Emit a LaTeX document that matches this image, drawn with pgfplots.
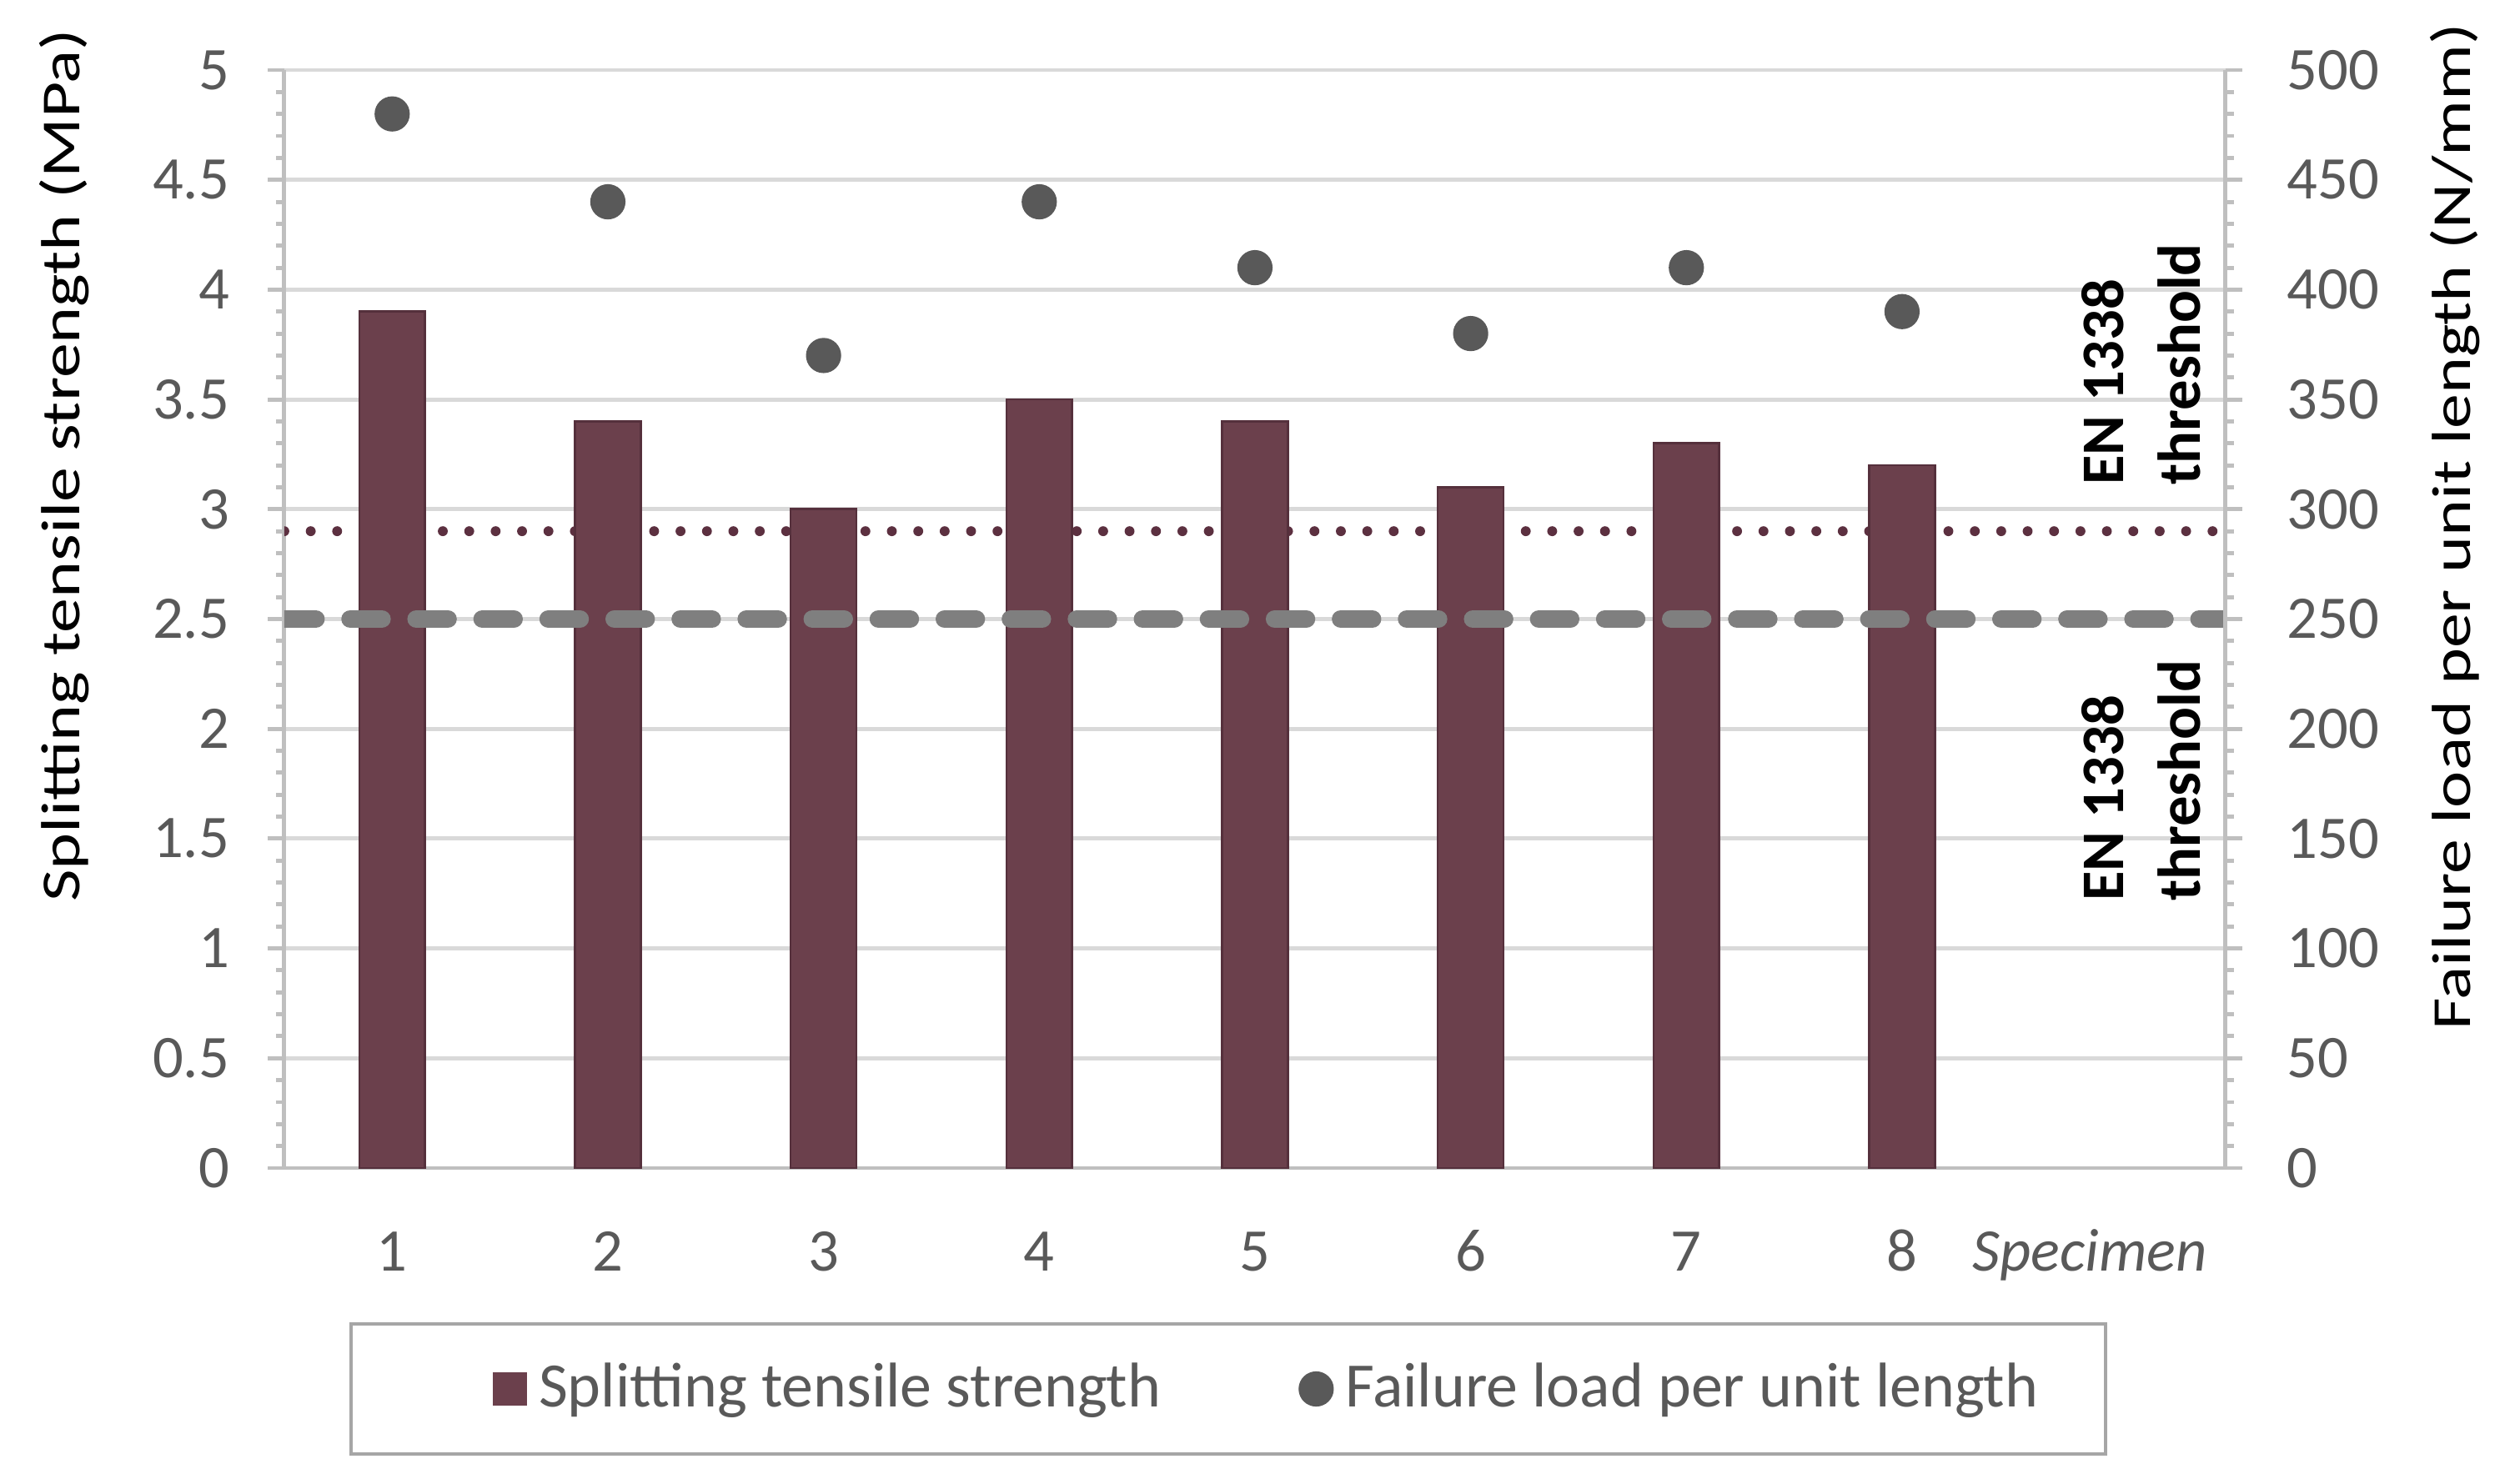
\documentclass[border=0pt]{standalone}
\usepackage{fontspec}
\setmainfont{Carlito}
\usepackage{graphicx}
\usepackage{pgfplots}
\pgfplotsset{compat=1.18}
\definecolor{barcol}{RGB}{107,64,76}
\definecolor{barline}{RGB}{85,48,60}
\definecolor{ptcol}{RGB}{89,89,89}
\definecolor{dotcol}{RGB}{92,48,64}
\definecolor{dashcol}{RGB}{127,127,127}
\definecolor{gridcol}{RGB}{217,217,217}
\definecolor{axiscol}{RGB}{191,191,191}
\definecolor{txtgray}{RGB}{89,89,89}
\definecolor{legcol}{RGB}{166,166,166}
\pgfplotsset{
  base/.style={
    scale only axis, width=352.78pt, height=199.58pt,
    xmin=0.5, xmax=9.5, ymin=0,
    tick align=outside, major tick length=3pt, minor tick length=1.5pt,
    minor y tick num=4,
    tick style={draw=axiscol, line width=0.75pt},
    axis line style={draw=axiscol, line width=0.75pt, -},
    tick label style={font=\fontsize{11}{13}\selectfont, text=txtgray},
    /pgf/number format/assume math mode=true,
    label style={font=\fontsize{12.5}{15}\selectfont, text=txtgray},
  }
}
\begin{document}
\begin{tikzpicture}
\useasboundingbox (-51.67pt,-57.28pt) rectangle (403.55pt,212.31pt);
\begin{axis}[base, ymax=5,
  axis x line*=bottom, axis y line*=left,
  ytick={0,0.5,1,1.5,2,2.5,3,3.5,4,4.5,5},
  ymajorgrids, grid style={draw=gridcol, line width=0.75pt},
  xtick={1,2,3,4,5,6,7,8,8.87},
  xticklabels={1,2,3,4,5,6,7,8,\textit{Specimen}},
  xtick style={draw=none},
  xticklabel style={anchor=base, inner sep=0pt, yshift=-15.7pt},
  yticklabel style={anchor=east, inner sep=0pt, xshift=-6.8pt},
  every axis y label/.style={at={(axis description cs:-0.1134,0.640)}, rotate=90, anchor=center},
  ylabel={\scalebox{1.27}[1]{Splitting tensile strength (MPa)}},
]
\addplot[dotcol, line width=1.8pt, line cap=round, dash pattern=on 0pt off 4.8pt] coordinates {(0.5,2.9) (9.5,2.9)};
\addplot[ybar, bar shift=0pt, bar width=0.305, fill=barcol, draw=barline, line width=0.4pt]
  coordinates {(1,3.9) (2,3.4) (3,3.0) (4,3.5) (5,3.4) (6,3.1) (7,3.3) (8,3.2)};
\addplot[dashcol, line width=3.3pt, line cap=round, dash pattern=on 5.7pt off 6.3pt] coordinates {(0.5,2.5) (9.5,2.5)};
\node[rotate=90, anchor=north west, inner sep=0pt, align=left, font=\fontsize{11}{14}\selectfont\bfseries] at (axis cs:8.827,3.106) {EN 1338\\threshold};
\node[rotate=90, anchor=north west, inner sep=0pt, align=left, font=\fontsize{11}{14}\selectfont\bfseries] at (axis cs:8.827,1.21) {EN 1338\\threshold};
\end{axis}
\begin{axis}[base, ymax=500,
  axis x line=none, axis y line*=right,
  ytick={0,50,100,150,200,250,300,350,400,450,500},
  yticklabel style={anchor=west, inner sep=0pt, xshift=8pt},
  every axis y label/.style={at={(axis description cs:1.1181,0.584)}, rotate=90, anchor=center},
  ylabel={\scalebox{1.27}[1]{Failure load per unit length (N/mm)}},
  legend columns=2,
  legend style={at={(axis description cs:0.107,-0.2012)}, anchor=west, draw=none, fill=none,
    inner xsep=0pt, inner ysep=0pt, font=\fontsize{11.5}{13}\selectfont, text=txtgray,
    column sep=0.1pt, /tikz/every even column/.append style={column sep=23pt}},
]
\addlegendimage{legend image code/.code={\fill[barcol] (0pt,-2.9pt) rectangle (5.8pt,2.9pt);}}
\addlegendentry{Splitting tensile strength}
\addplot[only marks, mark=*, mark size=3pt, mark options={fill=ptcol, draw=ptcol},
  legend image code/.code={\fill[ptcol] (3pt,0pt) circle (3pt);}]
  coordinates {(1,480) (2,440) (3,370) (4,440) (5,410) (6,380) (7,410) (8,390)};
\addlegendentry{Failure load per unit length}
\end{axis}
\draw[legcol, line width=0.6pt] (12.14pt,-28.34pt) rectangle (330.94pt,-51.97pt);
\end{tikzpicture}
\end{document}
